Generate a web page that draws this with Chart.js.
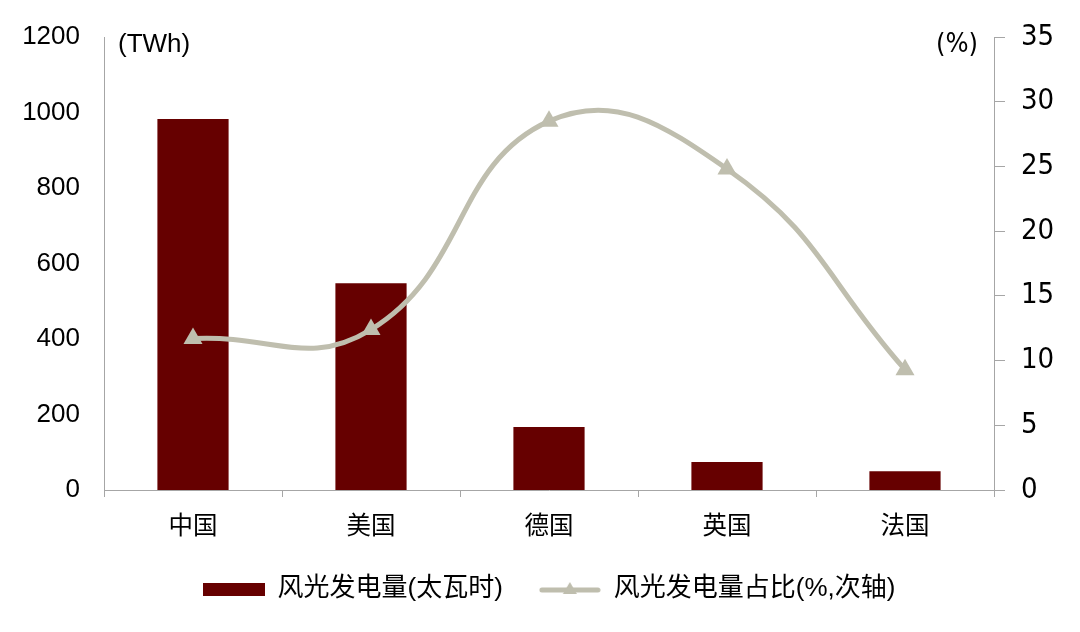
<!DOCTYPE html>
<html>
<head>
<meta charset="utf-8">
<script src="https://cdn.jsdelivr.net/npm/chart.js@4/dist/chart.umd.min.js"></script>
<style>
  html, body { margin: 0; padding: 0; background: #fff; }
  #wrap { width: 1080px; height: 632px; }
</style>
</head>
<body>
<div id="wrap"><canvas id="chart" width="1080" height="632"></canvas></div>
<script>
const categories = ['中国', '美国', '德国', '英国', '法国'];
const generationTWh = [983, 548, 167, 74, 50];
const sharePct = [11.7, 12.4, 28.5, 24.8, 9.3];
const leftTicks = [0, 200, 400, 600, 800, 1000, 1200];
const rightTicks = [0, 5, 10, 15, 20, 25, 30, 35];

const barColor = '#660000';
const lineColor = '#bfbeae';
const axisColor = '#a6a6a6';
const fontFamily = "'Liberation Sans', Arial, 'Noto Sans CJK SC', sans-serif";
const rightFont = "'DejaVu Sans Condensed', 'DejaVu Sans', sans-serif";

function makeSwatch(kind) {
  const c = document.createElement('canvas');
  c.width = 62;
  c.height = 22;
  const ctx = c.getContext('2d');
  if (kind === 'bar') {
    ctx.fillStyle = barColor;
    ctx.fillRect(0, 5, 62, 13);
  } else {
    ctx.strokeStyle = lineColor;
    ctx.lineWidth = 5;
    ctx.lineCap = 'round';
    ctx.beginPath();
    ctx.moveTo(3, 12);
    ctx.lineTo(59, 12);
    ctx.stroke();
    ctx.fillStyle = lineColor;
    ctx.beginPath();
    ctx.moveTo(31, 4);
    ctx.lineTo(38, 16);
    ctx.lineTo(24, 16);
    ctx.closePath();
    ctx.fill();
  }
  return c;
}

const unitLabels = {
  id: 'unitLabels',
  afterDraw(chart) {
    const { ctx, chartArea } = chart;
    ctx.save();
    ctx.fillStyle = '#000';
    ctx.textBaseline = 'middle';
    ctx.font = '26px ' + fontFamily;
    ctx.textAlign = 'left';
    ctx.fillText('(TWh)', chartArea.left + 14, chartArea.top + 8);
    ctx.font = '27px ' + rightFont;
    ctx.textAlign = 'right';
    ctx.fillText('(%)', chartArea.right - 16, chartArea.top + 8);
    ctx.restore();
  },
};

new Chart(document.getElementById('chart'), {
  data: {
    labels: categories,
    datasets: [
      {
        type: 'line',
        label: '风光发电量占比(%,次轴)',
        data: sharePct,
        yAxisID: 'y1',
        borderColor: lineColor,
        backgroundColor: lineColor,
        borderWidth: 5,
        tension: 0.45,
        pointStyle: 'triangle',
        pointRadius: 11,
        pointHoverRadius: 11,
        pointBorderWidth: 0,
        order: 0,
      },
      {
        type: 'bar',
        label: '风光发电量(太瓦时)',
        data: generationTWh,
        yAxisID: 'y',
        backgroundColor: barColor,
        barPercentage: 0.4,
        categoryPercentage: 1,
        order: 1,
      },
    ],
  },
  options: {
    responsive: false,
    animation: false,
    layout: { padding: { top: 37, left: 0, right: 0, bottom: 20 } },
    plugins: {
      tooltip: { enabled: false },
      legend: {
        position: 'bottom',
        fullSize: false,
        reverse: true,
        labels: {
          usePointStyle: true,
          pointStyleWidth: 62,
          padding: 36,
          color: '#000',
          font: { family: fontFamily, size: 26 },
          generateLabels(chart) {
            return chart.data.datasets.map((ds, i) => ({
              text: ds.label,
              pointStyle: makeSwatch(ds.type),
              fillStyle: ds.backgroundColor,
              strokeStyle: ds.borderColor,
              lineWidth: 0,
              hidden: false,
              datasetIndex: i,
              fontColor: '#000',
            }));
          },
        },
      },
    },
    scales: {
      x: {
        offset: true,
        grid: { display: true, drawOnChartArea: false, drawTicks: true, tickLength: 7, offset: true, color: axisColor },
        border: { color: axisColor, width: 1 },
        ticks: { color: '#000', font: { family: fontFamily, size: 24.5 }, padding: 16 },
        afterFit(scale) { scale.height = 50; },
      },
      y: {
        position: 'left',
        min: 0,
        max: 1200,
        afterBuildTicks(scale) { scale.ticks = leftTicks.map((v) => ({ value: v })); },
        grid: { display: false },
        border: { color: axisColor, width: 1 },
        ticks: { color: '#000', font: { family: fontFamily, size: 26 }, padding: 16, callback: (v) => String(v) },
        afterFit(scale) { scale.width = 104; },
      },
      y1: {
        position: 'right',
        min: 0,
        max: 35,
        afterBuildTicks(scale) { scale.ticks = rightTicks.map((v) => ({ value: v })); },
        grid: { display: true, drawOnChartArea: false, drawTicks: true, tickLength: 11, color: axisColor },
        border: { color: axisColor, width: 1 },
        ticks: { color: '#000', font: { family: rightFont, size: 29 }, padding: 16, callback: (v) => String(v) },
        afterFit(scale) { scale.width = 86; },
      },
    },
  },
  plugins: [unitLabels],
});
</script>
</body>
</html>
